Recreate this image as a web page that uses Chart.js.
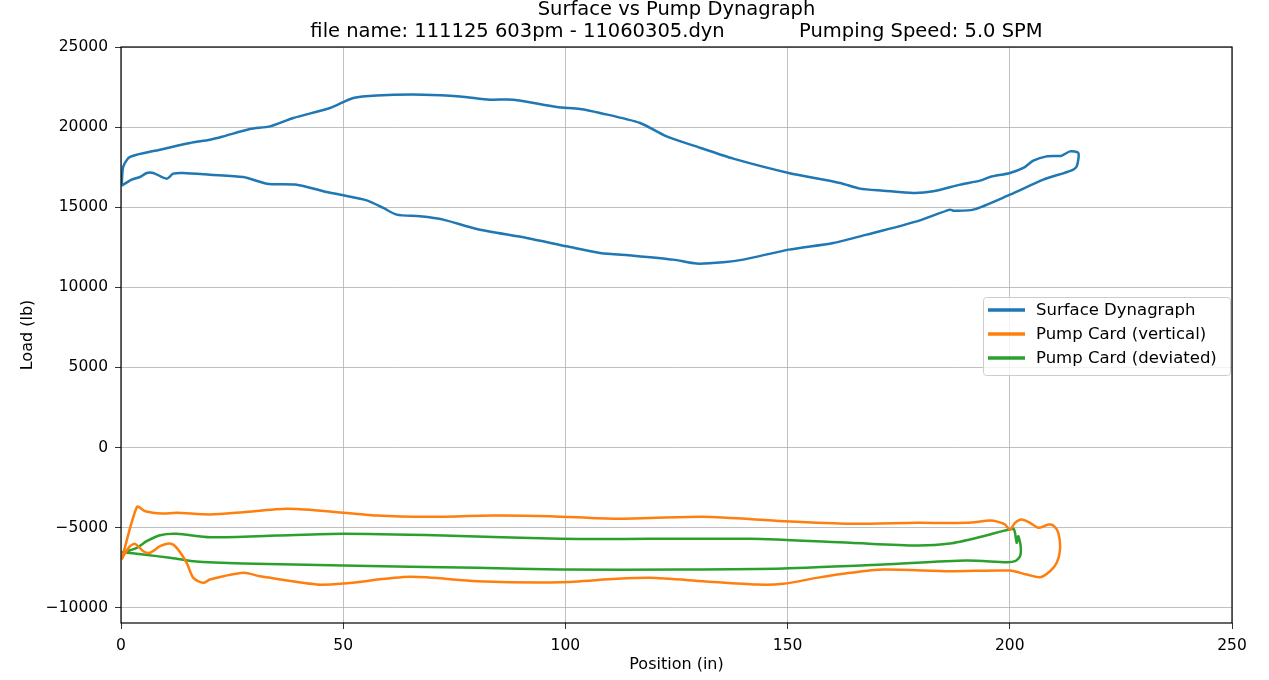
<!DOCTYPE html>
<html>
<head>
<meta charset="utf-8">
<script src="https://cdn.jsdelivr.net/npm/chart.js@4/dist/chart.umd.min.js"></script>
<style>
html,body{margin:0;padding:0;background:#fff;}
#c{display:block;}
</style>
</head>
<body>
<canvas id="c" width="1269" height="680"></canvas>
<script>
const titleLine1 = "Surface vs Pump Dynagraph";
const titleLine2 = "file name: 111125 603pm - 11060305.dyn            Pumping Speed: 5.0 SPM";
const seriesNames = ["Surface Dynagraph", "Pump Card (vertical)", "Pump Card (deviated)"];
const seriesColors = ["#1f77b4", "#ff7f0e", "#2ca02c"];
const xTicks = [0, 50, 100, 150, 200, 250];
const yTicks = [-10000, -5000, 0, 5000, 10000, 15000, 20000, 25000];

const surfX = [0.16,0.52,2.03,8.78,15.53,20.03,23.02,29.03,33.53,38.77,47.03,52.27,57.54,68.02,76.28,83.03,88.28,98.04,103.29,107.79,116.79,122.79,130.44,137.78,150.25,161.79,166.29,171.54,178.29,182.79,188.79,193.29,195.54,200.04,203.04,205.29,208.30,211.68,213.55,215.42,215.05,213.93,207.54,200.04,191.79,187.29,186.54,179.05,167.80,160.28,150.25,140.03,135.53,129.54,124.28,115.28,107.79,100.29,91.29,80.04,72.52,67.28,62.04,59.02,55.29,50.02,45.52,39.54,32.79,27.52,20.03,14.02,11.77,10.28,7.27,5.78,4.28,2.41,0.16];
const surfY = [16409,17550,18137,18592,19010,19216,19423,19880,20046,20570,21195,21818,21980,22025,21918,21712,21712,21257,21133,20882,20258,19423,18698,18031,17138,16514,16160,16035,15890,15994,16409,16658,16887,17138,17450,17906,18174,18218,18486,18384,17550,17301,16720,15785,14849,14786,14849,14119,13289,12771,12354,11729,11561,11480,11729,11978,12146,12561,13081,13643,14225,14431,14537,14953,15430,15743,15994,16409,16471,16887,17033,17138,17095,16783,17138,17138,16887,16720,16347];

const vertX = [0.16,3.60,5.47,9.23,12.53,20.03,27.52,37.29,46.29,57.54,68.79,83.78,96.53,111.54,131.03,149.03,164.04,179.05,190.30,195.54,197.41,198.92,200.04,201.17,202.68,204.55,206.42,208.67,209.79,210.92,211.30,210.56,209.05,206.80,203.80,200.04,186.54,171.53,164.04,156.55,149.03,143.05,131.03,119.04,111.54,98.79,80.04,65.03,50.02,44.04,31.28,27.52,20.03,18.52,16.27,14.78,12.53,11.03,8.78,6.53,5.02,3.15,2.03,0.52,0.16];
const vertY = [-6988,-3700,-3974,-4118,-4074,-4180,-4037,-3824,-3974,-4243,-4324,-4243,-4286,-4448,-4324,-4598,-4760,-4698,-4698,-4554,-4636,-4804,-5116,-4698,-4492,-4698,-5010,-4804,-4866,-5322,-6364,-7194,-7718,-8092,-7925,-7674,-7718,-7612,-7820,-8133,-8507,-8550,-8341,-8133,-8195,-8404,-8341,-8071,-8486,-8550,-8029,-7820,-8236,-8445,-8133,-7194,-6258,-5990,-6158,-6570,-6470,-6008,-6158,-6782,-6988];

const devX = [0.16,3.53,5.78,8.78,12.53,20.03,35.04,50.02,72.52,98.79,119.04,141.54,164.04,179.05,186.54,194.04,200.79,201.17,201.55,201.91,202.45,202.30,201.17,199.30,190.30,171.53,149.03,126.53,98.79,80.04,50.02,27.52,16.27,11.03,5.02,0.16];
const devY = [-6570,-6258,-5846,-5472,-5385,-5597,-5491,-5385,-5491,-5697,-5697,-5697,-5946,-6114,-5990,-5534,-5072,-5322,-5946,-5534,-6158,-6782,-7094,-7156,-7050,-7300,-7550,-7612,-7612,-7506,-7362,-7237,-7094,-6882,-6676,-6532];

function zip(xs, ys){ return xs.map((x,i)=>({x:x, y:ys[i]})); }

const FONT = "'DejaVu Sans', sans-serif";

const framePlugin = {
  id: 'frame',
  afterDraw(chart){
    const ctx = chart.ctx, a = chart.chartArea;
    ctx.save();
    ctx.strokeStyle = '#000';
    ctx.lineWidth = 1.2;
    ctx.strokeRect(a.left, a.top, a.right - a.left, a.bottom - a.top);
    ctx.fillStyle = '#000';
    ctx.textAlign = 'center';
    ctx.textBaseline = 'alphabetic';
    ctx.font = "19.5px " + FONT;
    const cx = (a.left + a.right) / 2;
    ctx.fillText(titleLine1, cx, 15);
    ctx.fillText(titleLine2, cx, 37);
    const lx = 983, ly = 297, lw = 247, lh = 78;
    ctx.fillStyle = 'rgba(255,255,255,0.8)';
    ctx.strokeStyle = '#cccccc';
    ctx.lineWidth = 1;
    ctx.beginPath();
    if (ctx.roundRect) ctx.roundRect(lx+0.5, ly+0.5, lw, lh, 3); else ctx.rect(lx+0.5, ly+0.5, lw, lh);
    ctx.fill();
    ctx.stroke();
    ctx.font = "16.5px " + FONT;
    ctx.textAlign = 'left';
    ctx.textBaseline = 'middle';
    chart.data.datasets.forEach((ds, i) => {
      const y = 310 + i * 24;
      ctx.strokeStyle = ds.borderColor;
      ctx.lineWidth = 3.5;
      ctx.beginPath();
      ctx.moveTo(988, y);
      ctx.lineTo(1025, y);
      ctx.stroke();
      ctx.fillStyle = '#000';
      ctx.fillText(ds.label, 1036, y + 1);
    });
    ctx.restore();
  }
};

new Chart(document.getElementById('c'), {
  type: 'scatter',
  data: {
    datasets: [
      {label: seriesNames[0], data: zip(surfX, surfY), borderColor: seriesColors[0], backgroundColor: seriesColors[0]},
      {label: seriesNames[1], data: zip(vertX, vertY), borderColor: seriesColors[1], backgroundColor: seriesColors[1]},
      {label: seriesNames[2], data: zip(devX, devY), borderColor: seriesColors[2], backgroundColor: seriesColors[2]}
    ].map(d => Object.assign(d, {showLine: true, pointRadius: 0, borderWidth: 2.5, tension: 0.25, fill: false}))
  },
  options: {
    responsive: false,
    animation: false,
    devicePixelRatio: 1,
    layout: {padding: {top: 47, right: 37, left: 0, bottom: 0}},
    plugins: {legend: {display: false}, title: {display: false}, tooltip: {enabled: false}},
    scales: {
      x: {
        type: 'linear', min: 0, max: 250,
        afterBuildTicks: s => { s.ticks = xTicks.map(v => ({value: v})); },
        afterFit: s => { s.height = 57; },
        grid: {color: '#b0b0b0', lineWidth: 0.8, tickLength: 6, tickColor: '#000', drawTicks: true},
        border: {display: false},
        ticks: {color: '#000', font: {family: FONT, size: 15.5}, padding: 8, maxRotation: 0,
                callback: v => String(v)},
        title: {display: true, text: 'Position (in)', color: '#000', font: {family: FONT, size: 16}, padding: {top: 0, bottom: 6}}
      },
      y: {
        type: 'linear', min: -10950, max: 25000,
        afterBuildTicks: s => { s.ticks = yTicks.map(v => ({value: v})); },
        afterFit: s => { s.width = 121; },
        grid: {color: '#b0b0b0', lineWidth: 0.8, tickLength: 6, tickColor: '#000', drawTicks: true},
        border: {display: false},
        ticks: {color: '#000', font: {family: FONT, size: 15.5}, padding: 7,
                callback: v => (v < 0 ? '\u2212' + Math.abs(v) : String(v))},
        title: {display: true, text: 'Load (lb)', color: '#000', font: {family: FONT, size: 16}, padding: {top: 18, bottom: 0}}
      }
    }
  },
  plugins: [framePlugin]
});
</script>
</body>
</html>
